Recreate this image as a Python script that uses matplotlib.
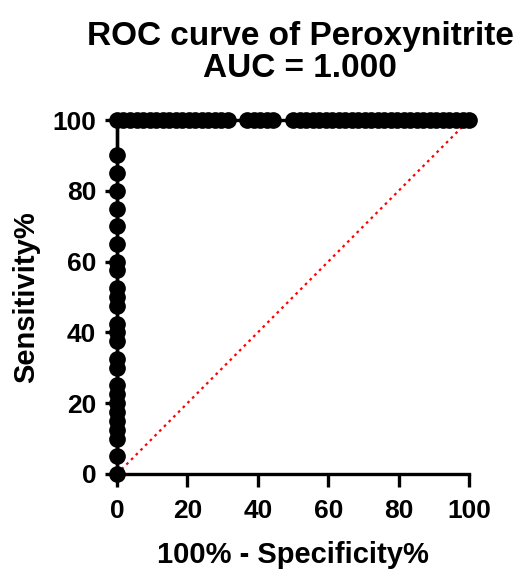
import matplotlib
matplotlib.use("Agg")
import matplotlib.pyplot as plt

plt.rcParams['font.family'] = ['Liberation Sans', 'DejaVu Sans']
plt.rcParams['font.weight'] = 'bold'

# sensitivity values at 100% specificity (vertical part of the curve)
sens_at_zero = [0, 5, 10, 12.5, 15, 17.5, 20, 22.5, 25, 30, 32.5, 37.5, 40, 42.5,
                47.5, 50, 52.5, 57.5, 60, 65, 70, 75, 80, 85, 90]
# 100% - specificity values where sensitivity is 100%
fpr_at_full = [0.00, 1.85, 3.70, 5.56, 7.41, 9.26, 11.11, 12.96, 14.81, 16.67,
               18.52, 20.37, 22.22, 24.07, 25.93, 27.78, 29.63, 31.48,
               37.04, 38.89, 40.74, 42.59, 44.44,
               50.00, 51.85, 53.70, 55.56, 57.41, 59.26, 61.11, 62.96, 64.81,
               66.67, 68.52, 70.37, 72.22, 74.07, 75.93, 77.78, 79.63, 81.48,
               83.33, 85.19, 87.04, 88.89, 90.74, 92.59, 94.44, 96.30, 98.15, 100.00]
ticks = [0, 20, 40, 60, 80, 100]
auc = 1.000

fpr = [0] * len(sens_at_zero) + fpr_at_full
tpr = sens_at_zero + [100] * len(fpr_at_full)

fig = plt.figure(figsize=(5.14, 5.71), dpi=100)
ax = fig.add_axes([0.2276, 0.1699, 0.6849, 0.6199])

# chance line
ax.plot([0, 100], [0, 100], color='red', ls=(0, (1.2, 1.8)), lw=1.6, zorder=2, clip_on=False)
ax.plot(fpr, tpr, color='black', lw=2.4, marker='o', ms=11, zorder=3, clip_on=False)

ax.set_xlim(0, 100)
ax.set_ylim(0, 100)
ax.set_xticks(ticks)
ax.set_yticks(ticks)
for side in ['top', 'right']:
    ax.spines[side].set_visible(False)
for side in ['left', 'bottom']:
    ax.spines[side].set_linewidth(2.4)
ax.tick_params(width=2.4, length=9, labelsize=19)
ax.tick_params(axis='x', pad=9)
ax.tick_params(axis='y', pad=6)
for lab in ax.get_xticklabels() + ax.get_yticklabels():
    lab.set_fontweight('bold')

ax.set_xlabel('100% - Specificity%', fontsize=21, fontweight='bold', labelpad=13)
ax.set_ylabel('Sensitivity%', fontsize=21, fontweight='bold', labelpad=9)
ax.set_title(f'ROC curve of Peroxynitrite\nAUC = {auc:.3f}', fontsize=24,
             fontweight='bold', pad=31, linespacing=1.05, x=0.52)

fig.savefig('out.png', dpi=100)
